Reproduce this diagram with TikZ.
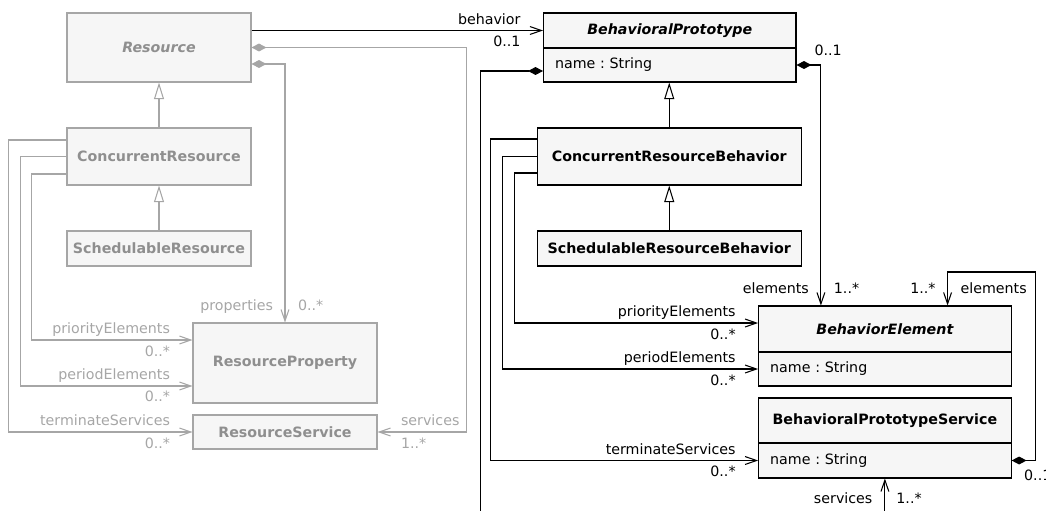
\documentclass[tikz,border=0pt]{standalone}
\usepackage{fontspec}
\setmainfont{DejaVu Sans}
\usetikzlibrary{arrows.meta}
\definecolor{faded}{HTML}{A6A6A6}
\definecolor{fadedText}{HTML}{8F8F8F}
\definecolor{boxFill}{HTML}{F6F6F6}
\newcommand{\umlsize}{\fontsize{8.1pt}{9.7pt}\selectfont}
\frenchspacing
\tikzset{
  every node/.style={font=\umlsize},
  cls/.style={draw, fill=boxFill, inner sep=0pt, font=\umlsize\bfseries},
  abs/.style={cls, font=\umlsize\bfseries\itshape},
  attr/.style={draw, fill=boxFill, inner xsep=0.23cm, inner ysep=0pt, text width=4.59cm, align=left},
  oldBox/.style={draw=faded, text=fadedText},
  old/.style={color=faded},
  lnk/.style={-{Straight Barb[length=6.5pt,width=4.5pt]}},
  comp/.style={{Diamond[length=8.5pt,width=4.5pt]}-{Straight Barb[length=6.5pt,width=4.5pt]}},
  compOnly/.style={{Diamond[length=8.5pt,width=4.5pt]}-},
  gen/.style={-{Triangle[length=9.5pt,width=5.7pt,fill=white]}},
  lA/.style={pos=1, inner sep=0pt, anchor=base east, xshift=-0.44cm, yshift=0.13cm},
  lB/.style={pos=1, inner sep=0pt, anchor=base east, xshift=-0.44cm, yshift=-0.32cm},
  rA/.style={pos=1, inner sep=0pt, anchor=base west, xshift=0.46cm, yshift=0.13cm},
  rB/.style={pos=1, inner sep=0pt, anchor=base west, xshift=0.46cm, yshift=-0.32cm},
  tL/.style={pos=1, inner sep=0pt, anchor=base east, xshift=-0.23cm, yshift=0.24cm},
  tR/.style={pos=1, inner sep=0pt, anchor=base west, xshift=0.25cm, yshift=0.24cm}
}
\begin{document}
\begin{tikzpicture}[x=0.02cm, y=-0.02cm, line width=0.6pt]
    \useasboundingbox (0,0) rectangle (1046,511);
    \node[abs, oldBox, minimum width=3.68cm, minimum height=1.38cm] (res) at (159,47.5) {Resource};
    \node[cls, oldBox, minimum width=3.68cm, minimum height=1.14cm] (concRes) at (159,156.5) {ConcurrentResource};
    \node[cls, oldBox, minimum width=3.68cm, minimum height=0.70cm] (schedRes) at (159,248.5) {SchedulableResource};
    \node[cls, oldBox, minimum width=3.68cm, minimum height=1.60cm] (resProp) at (285,363) {ResourceProperty};
    \node[cls, oldBox, minimum width=3.68cm, minimum height=0.68cm] (resServ) at (285,432) {ResourceService};
    \node[abs, minimum width=5.05cm, minimum height=0.70cm] (protoHead) at (669.75,30.5) {BehavioralPrototype};
    \node[attr, minimum height=0.68cm] (protoAttr) at (669.75,65) {name : String};
    \node[cls, minimum width=5.29cm, minimum height=1.14cm] (concBeh) at (669.25,156.5) {ConcurrentResourceBehavior};
    \node[cls, minimum width=5.29cm, minimum height=0.70cm] (schedBeh) at (669.25,248.5) {SchedulableResourceBehavior};
    \node[abs, minimum width=5.05cm, minimum height=0.92cm] (elemHead) at (884.9,329) {BehaviorElement};
    \node[attr, minimum height=0.68cm] (elemAttr) at (884.9,369) {name : String};
    \node[cls, minimum width=5.05cm, minimum height=0.90cm] (servHead) at (884.9,420.5) {BehavioralPrototypeService};
    \node[attr, minimum height=0.70cm] (servAttr) at (884.9,460.5) {name : String};
    \coordinate (cutA) at (480.5,516);
    \coordinate (cutB) at (884.9,516);

    \draw[lnk] (res.east |- protoHead.west) -- (protoHead.west) node[lA]{behavior} node[lB]{0..1};
    \draw[comp, old] (res.east) -- ++(215,0) |- (resServ.east) node[rA]{services} node[rB]{1..*};
    \draw[comp, old] ([yshift=-0.33cm]res.east) -| (resProp.north) node[tL]{properties} node[tR]{0..*};
    \draw[gen, old] (concRes.north) -- (res.south);
    \draw[gen, old] (schedRes.north) -- (concRes.south);
    \draw[lnk, old] ([yshift=0.33cm]concRes.west) -- ++(-58,0) |- (resServ.west) node[lA]{terminateServices} node[lB]{0..*};
    \draw[lnk, old] (concRes.west) -- ++(-46,0) |- ([yshift=-0.46cm]resProp.west) node[lA]{periodElements} node[lB]{0..*};
    \draw[lnk, old] ([yshift=-0.35cm]concRes.west) -- ++(-35,0) |- ([yshift=0.46cm]resProp.west) node[lA]{priorityElements} node[lB]{0..*};

    \draw[compOnly] ([yshift=-0.12cm]protoAttr.west) -| (cutA);
    \draw[comp] (protoAttr.east) node[inner sep=0pt, anchor=base west, xshift=0.35cm, yshift=0.2cm]{0..1} -| ([xshift=-1.28cm]elemHead.north) node[tL]{elements} node[tR]{1..*};
    \draw[gen] (concBeh.north) -- (concBeh.north |- protoAttr.south);
    \draw[gen] (schedBeh.north) -- (concBeh.south);
    \draw[lnk] ([yshift=0.35cm]concBeh.west) -- ++(-46,0) |- (servAttr.west) node[lA]{terminateServices} node[lB]{0..*};
    \draw[lnk] (concBeh.west) -- ++(-34,0) |- (elemAttr.west) node[lA]{periodElements} node[lB]{0..*};
    \draw[lnk] ([yshift=-0.33cm]concBeh.west) -- ++(-22.4,0) |- ([yshift=0.12cm]elemHead.west) node[lA]{priorityElements} node[lB]{0..*};
    \draw[comp] (servAttr.east) node[inner sep=0pt, anchor=base west, xshift=0.24cm, yshift=-0.39cm]{0..1} -- ++(24,0) -- ++(0,-188.5) -| ([xshift=1.254cm]elemHead.north) node[tL]{1..*} node[tR]{elements};
    \draw[lnk] (cutB) -- (servAttr.south) node[pos=1, inner sep=0pt, anchor=base east, xshift=-0.24cm, yshift=-0.5cm]{services} node[pos=1, inner sep=0pt, anchor=base west, xshift=0.22cm, yshift=-0.5cm]{1..*};
\end{tikzpicture}
\end{document}
